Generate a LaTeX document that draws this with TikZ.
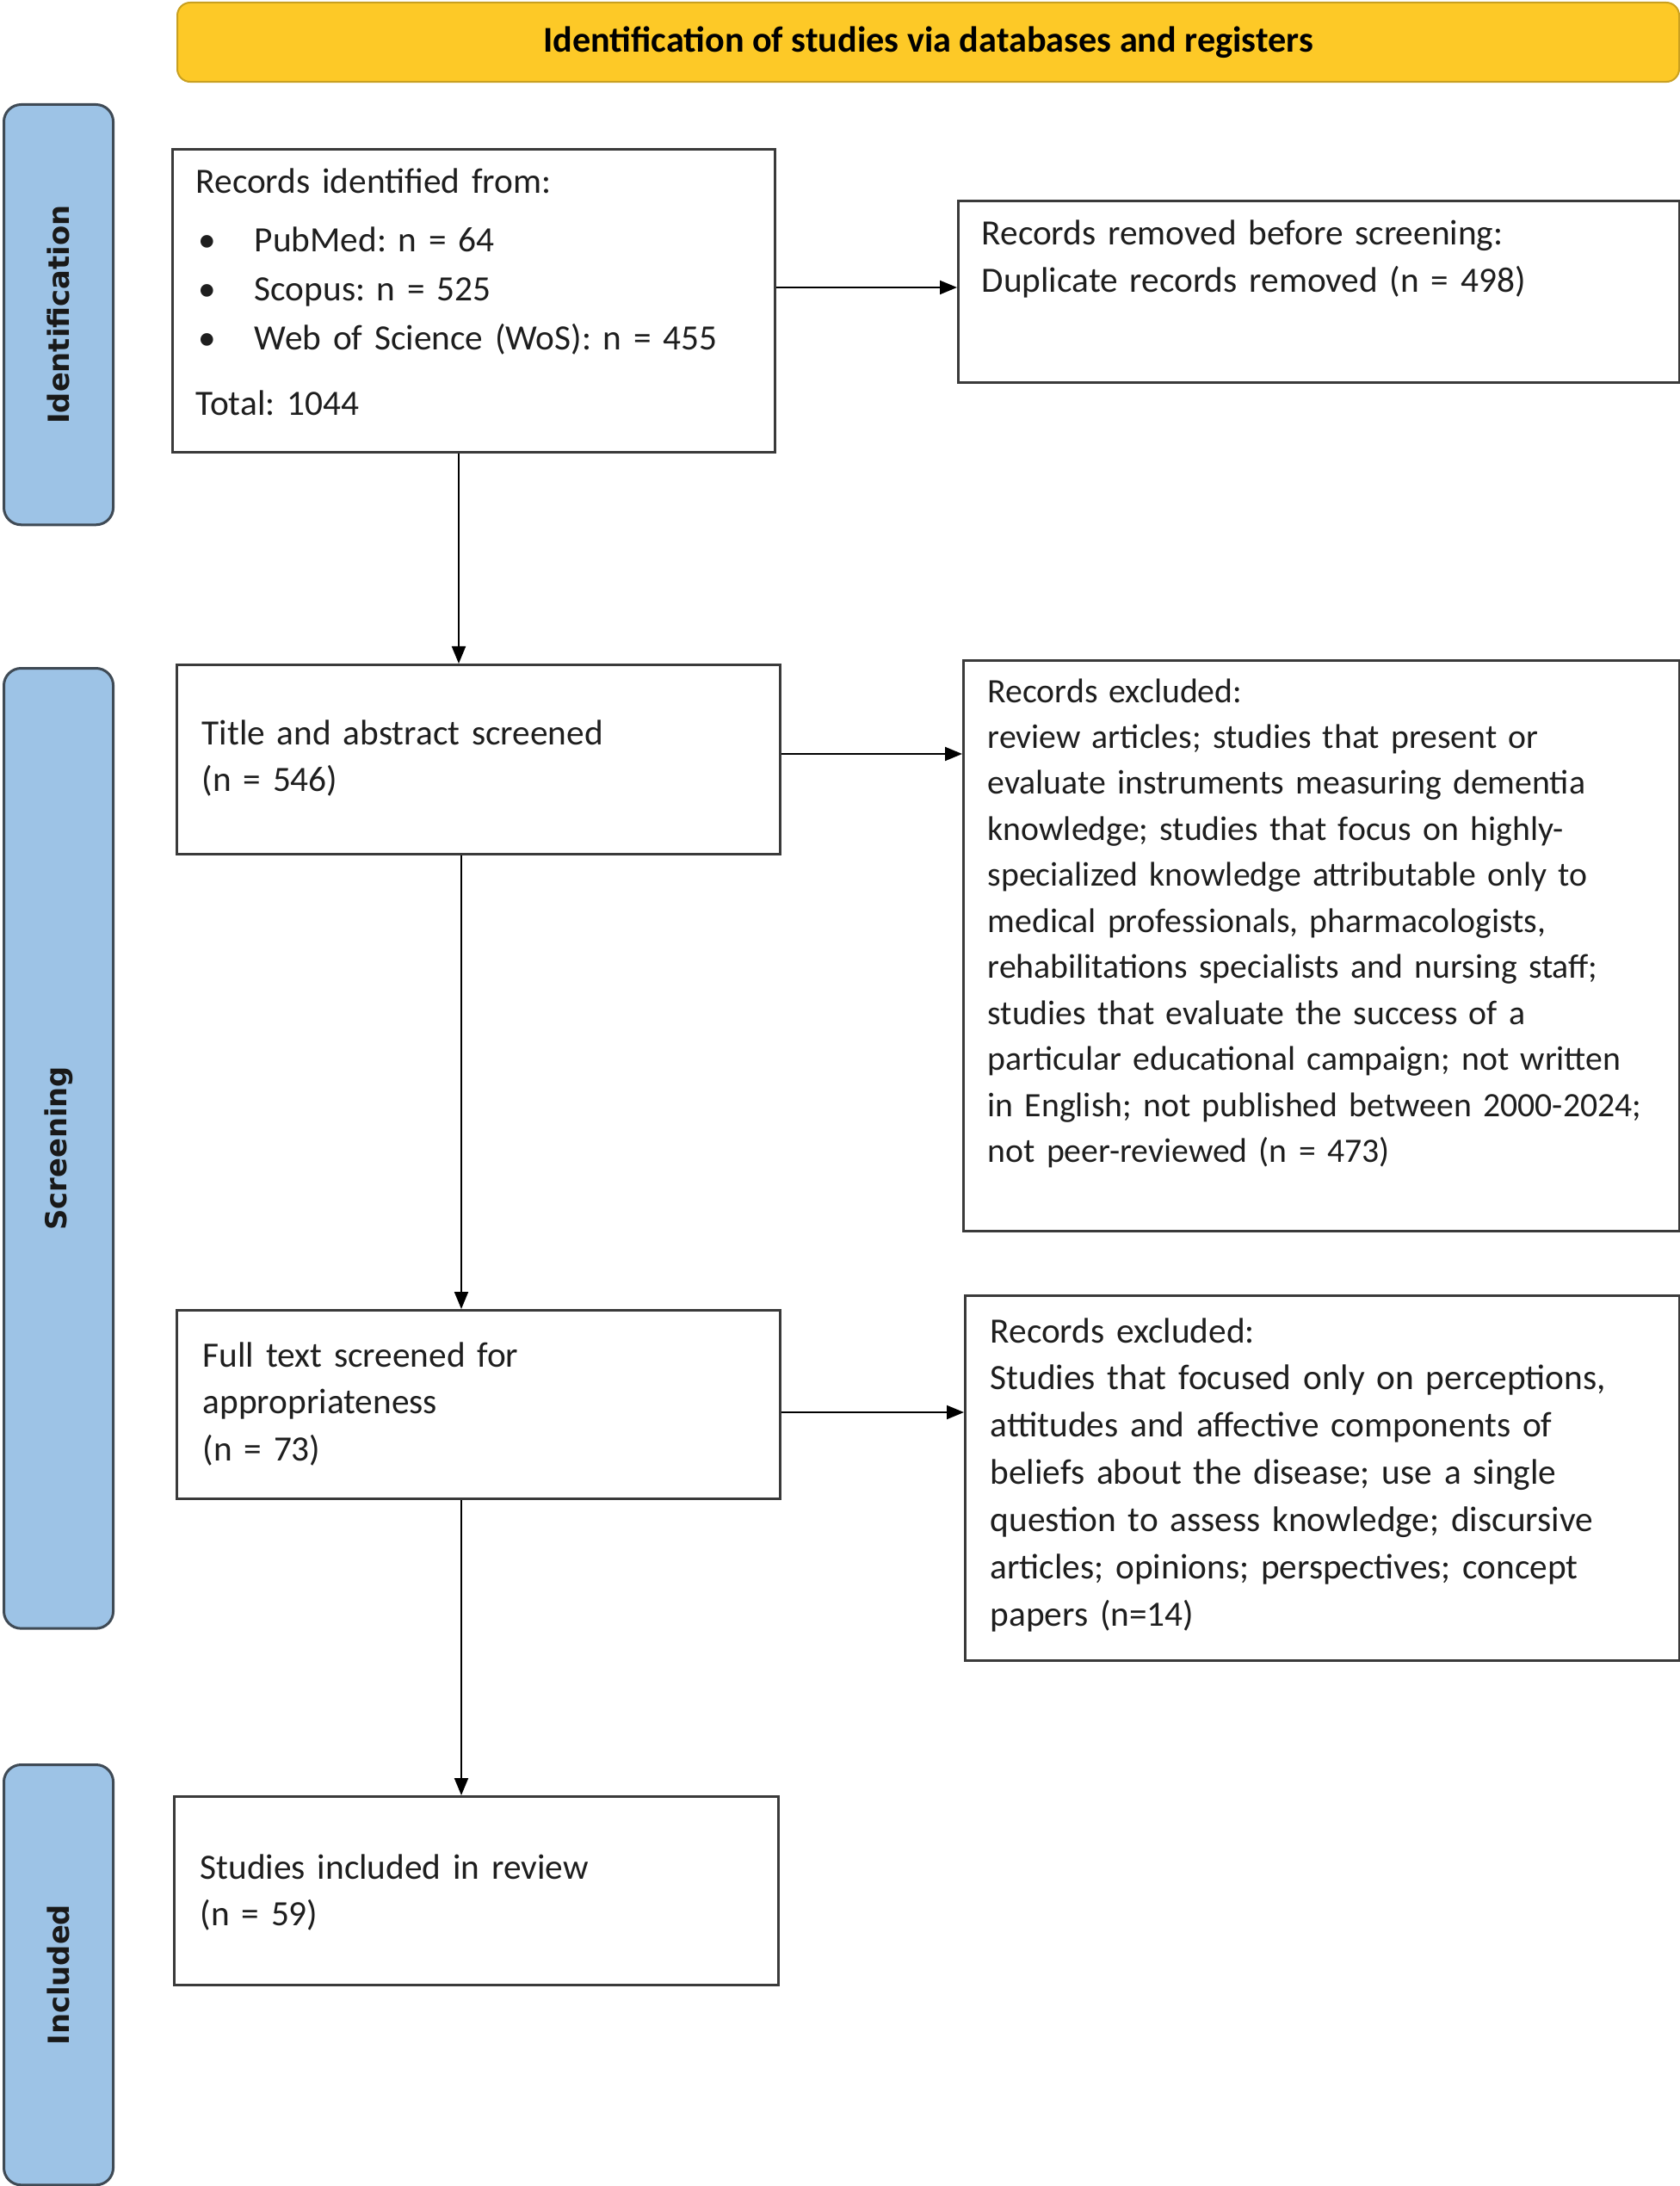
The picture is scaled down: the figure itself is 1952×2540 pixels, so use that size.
\documentclass[tikz,border=0pt]{standalone}
\usepackage{fontspec}
\setmainfont{Carlito}
\newfontfamily\labfont{DejaVu Sans}
\usetikzlibrary{arrows.meta}
\definecolor{banfill}{HTML}{FDC927}
\definecolor{bandraw}{HTML}{C9A020}
\definecolor{barfill}{HTML}{9DC3E6}
\definecolor{bardraw}{HTML}{3F4A55}
\definecolor{boxdraw}{HTML}{3A3A3A}
\definecolor{txtcol}{HTML}{1E1E1E}
\frenchspacing
\begin{document}
\begin{tikzpicture}[x=0.01cm,y=-0.01cm,
  flowbox/.style={draw=boxdraw,line width=0.03cm,fill=white,inner sep=0pt,anchor=north west},
  bodytext/.style={inner sep=0pt,anchor=base west,align=left,text=txtcol,text width=8.3cm,font=\fontsize{11.75}{15.6}\selectfont},
  phasebar/.style={draw=bardraw,fill=barfill,line width=0.03cm,rounded corners=0.2cm,inner sep=0pt,anchor=north west,minimum width=1.27cm},
  phaselabel/.style={rotate=90,inner sep=0pt,font=\labfont\bfseries\fontsize{9.6}{11}\selectfont,text=black!90},
  arr/.style={draw=black,line width=0.02cm,-{Triangle[length=0.2cm,width=0.16cm]}}]
\useasboundingbox (0,0) rectangle (1952,2540);

% banner
\node[draw=bandraw,fill=banfill,line width=0.02cm,rounded corners=0.15cm,inner sep=0pt,anchor=north west,
      minimum width=17.44cm,minimum height=0.92cm] (banner) at (205,2) {};
\node[font=\bfseries\fontsize{12}{14}\selectfont,text=black,inner sep=0pt] (bannertext) at (banner.center) {Identification of studies via databases and registers};

% phase bars
\node[phasebar,minimum height=4.88cm] (barid) at (3,120) {};
\node[phasebar,minimum height=11.15cm] (barsc) at (3,775) {};
\node[phasebar,minimum height=4.88cm] (barin) at (3,2049) {};
\node[phaselabel] (labid) at (barid.center) {Identification};
\node[phaselabel] (labsc) at (barsc.center) {Screening};
\node[phaselabel] (labin) at (barin.center) {Included};

% boxes
\node[flowbox,minimum width=7.00cm,minimum height=3.52cm] (b1) at (199,172) {};
\node[flowbox,minimum width=8.37cm,minimum height=2.11cm] (r1) at (1112,232) {};
\node[flowbox,minimum width=7.01cm,minimum height=2.20cm] (b2) at (204,771) {};
\node[flowbox,minimum width=8.31cm,minimum height=6.63cm] (r2) at (1118,766) {};
\node[flowbox,minimum width=7.01cm,minimum height=2.19cm] (b3) at (204,1521) {};
\node[flowbox,minimum width=8.29cm,minimum height=4.24cm] (r3) at (1120,1504) {};
\node[flowbox,minimum width=7.02cm,minimum height=2.19cm] (b4) at (201,2086) {};

% texts
\node[bodytext,text width=6.6cm,font=\fontsize{11.75}{16.3}\selectfont] (b1t) at (227,225) {Records identified from:\\[2.8pt]
\hspace*{0.03cm}\makebox[0.65cm][l]{•}PubMed: n = 64\\
\hspace*{0.03cm}\makebox[0.65cm][l]{•}Scopus: n = 525\\
\hspace*{0.03cm}\makebox[0.65cm][l]{•}Web of Science (WoS): n = 455\\[5.3pt]
Total: 1044};

\node[bodytext] (r1t) at (1140,285) {Records removed before screening:\\Duplicate records removed (n = 498)};

\node[bodytext,text width=6.6cm] (b2t) at (234,865) {Title and abstract screened\\(n = 546)};

\node[bodytext,font=\fontsize{11.3}{15.2}\selectfont] (r2t) at (1147,816) {Records excluded:\\
review articles; studies that present or\\
evaluate instruments measuring dementia\\
knowledge; studies that focus on highly-\\
specialized knowledge attributable only to\\
medical professionals, pharmacologists,\\
rehabilitations specialists and nursing staff;\\
studies that evaluate the success of a\\
particular educational campaign; not written\\
in English; not published between 2000-2024;\\
not peer-reviewed (n = 473)};

\node[bodytext,text width=6.6cm] (b3t) at (235,1588) {Full text screened for\\appropriateness\\(n = 73)};

\node[bodytext] (r3t) at (1150,1560) {Records excluded:\\
Studies that focused only on perceptions,\\
attitudes and affective components of\\
beliefs about the disease; use a single\\
question to assess knowledge; discursive\\
articles; opinions; perspectives; concept\\
papers (n=14)};

\node[bodytext,text width=6.6cm] (b4t) at (232,2183) {Studies included in review\\(n = 59)};

% connectors
\coordinate (v1) at (533,0);
\coordinate (v2) at (536,0);
\coordinate (h1) at (0,334);
\coordinate (h2) at (0,876);
\coordinate (h3) at (0,1641);
\draw[arr] (v1 |- b1.south) -- (v1 |- b2.north);
\draw[arr] (v2 |- b2.south) -- (v2 |- b3.north);
\draw[arr] (v2 |- b3.south) -- (v2 |- b4.north);
\draw[arr] (b1.east |- h1) -- (r1.west |- h1);
\draw[arr] (b2.east |- h2) -- (r2.west |- h2);
\draw[arr] (b3.east |- h3) -- (r3.west |- h3);
\end{tikzpicture}
\end{document}
